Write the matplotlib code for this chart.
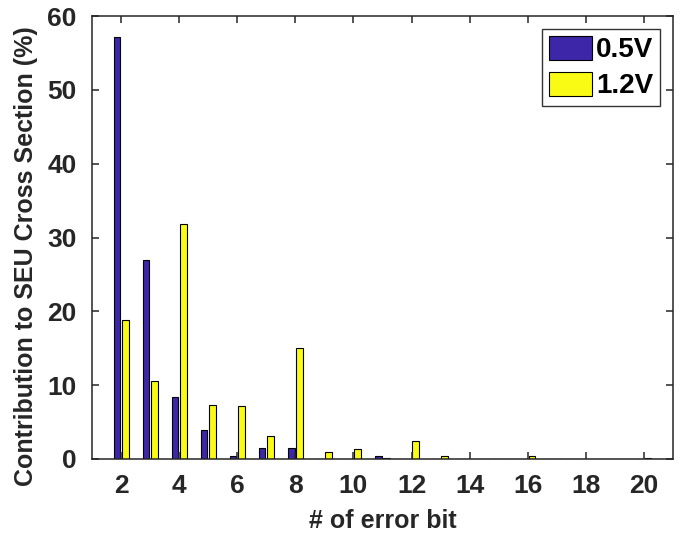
import numpy as np
import matplotlib
matplotlib.use('Agg')
import matplotlib.pyplot as plt

plt.rcParams['font.family'] = ['Liberation Sans', 'DejaVu Sans']
plt.rcParams['font.weight'] = 'bold'

error_bits = list(range(2, 21))
share_05v = [57.1, 26.9, 8.35, 3.97, 0.35, 1.45, 1.45, 0.0, 0.0, 0.35,
             0.0, 0.0, 0.0, 0.0, 0.0, 0.0, 0.0, 0.0, 0.0]
share_12v = [18.8, 10.55, 31.8, 7.38, 7.18, 3.12, 15.0, 0.9, 1.3, 0.2,
             2.4, 0.4, 0.0, 0.0, 0.45, 0.0, 0.0, 0.0, 0.2]
series_labels = ['0.5V', '1.2V']
x_ticks = list(range(2, 21, 2))
y_ticks = list(range(0, 61, 10))

fig = plt.figure(figsize=(6.82, 5.38), dpi=100)
ax = fig.add_axes([92 / 682, 79 / 538, 581 / 682, 443 / 538])

x = np.array(error_bits)
w = 0.2286
ax.bar(x - 0.143, share_05v, w, color='#3E26A8', edgecolor='black',
       linewidth=0.8, label=series_labels[0])
ax.bar(x + 0.143, share_12v, w, color='#F9FB15', edgecolor='black',
       linewidth=0.8, label=series_labels[1])

ax.set_xlim(1, 21)
ax.set_ylim(0, 60)
ax.set_xticks(x_ticks)
ax.set_yticks(y_ticks)

axis_color = '#262626'
for s in ax.spines.values():
    s.set_color(axis_color)
    s.set_linewidth(1.1)
ax.tick_params(direction='in', length=5, width=1.1, color=axis_color,
               top=True, right=True, labelsize=19, labelcolor=axis_color)
ax.tick_params(axis='x', pad=11)
ax.tick_params(axis='y', pad=11)

ax.set_xlabel('# of error bit', fontsize=18, fontweight='bold',
              color=axis_color, labelpad=8)
ax.set_ylabel('Contribution to SEU Cross Section (%)', fontsize=18,
              fontweight='bold', color=axis_color, labelpad=7)
ax.yaxis.label.set_y(0.458)

leg = ax.legend(loc='upper right', bbox_to_anchor=(568 / 581, 430 / 443),
                borderaxespad=0, fontsize=20, frameon=True, fancybox=False,
                handlelength=1.55, handleheight=0.95, handletextpad=0.15,
                borderpad=0.25, labelspacing=0.3)
leg.get_frame().set_edgecolor('black')
leg.get_frame().set_linewidth(1.0)

fig.savefig('out.png', dpi=100)
